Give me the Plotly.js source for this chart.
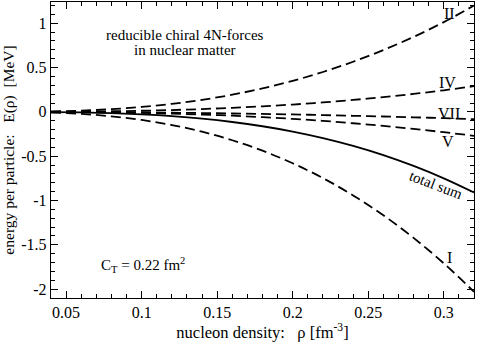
<!DOCTYPE html>
<html>
<head>
<meta charset="utf-8">
<script src="https://cdn.plot.ly/plotly-3.0.1.min.js"></script>
<style>
  html, body { margin: 0; padding: 0; background: #fff; }
  #chart { width: 478px; height: 343px; }
</style>
</head>
<body>
<div id="chart"></div>
<script>
// density grid [fm^-3]
var rho = [0.04, 0.06, 0.08, 0.10, 0.12, 0.14, 0.16, 0.18, 0.20, 0.22, 0.24, 0.26, 0.28, 0.30, 0.32];

// energy per particle contributions [MeV]
var eI   = [-0.008, -0.023, -0.050, -0.091, -0.148, -0.224, -0.320, -0.438, -0.580, -0.747, -0.943, -1.167, -1.422, -1.709, -2.03];
var eII  = [0.005, 0.014, 0.031, 0.056, 0.091, 0.136, 0.194, 0.265, 0.350, 0.450, 0.566, 0.698, 0.846, 1.013, 1.20];
var eIV  = [0.001, 0.003, 0.007, 0.013, 0.021, 0.032, 0.046, 0.063, 0.083, 0.107, 0.135, 0.167, 0.203, 0.244, 0.29];
var eV   = [-0.001, -0.003, -0.007, -0.012, -0.020, -0.030, -0.043, -0.059, -0.079, -0.101, -0.128, -0.158, -0.192, -0.229, -0.27];
var eVII = [-0.001, -0.002, -0.004, -0.006, -0.009, -0.013, -0.018, -0.023, -0.029, -0.036, -0.044, -0.052, -0.061, -0.071, -0.082];
var eSum = [-0.002, -0.006, -0.014, -0.028, -0.048, -0.076, -0.114, -0.162, -0.222, -0.296, -0.384, -0.488, -0.610, -0.750, -0.91];

var yTickVals = [-2, -1.5, -1, -0.5, 0, 0.5, 1];
var yTickText = ['-2', '-1.5', '-1', '-0.5', '0', '0.5', '1'];

var serif = 'Liberation Serif, Times New Roman, serif';

function dashed(y){
  return {
    x: rho, y: y,
    mode: 'lines',
    line: {color: 'black', width: 1.8, dash: '10px,5px', shape: 'spline'},
    hoverinfo: 'none'
  };
}

var total = {
  x: rho, y: eSum,
  mode: 'lines',
  line: {color: 'black', width: 1.8, shape: 'spline'},
  hoverinfo: 'none'
};

var data = [dashed(eI), dashed(eII), dashed(eIV), dashed(eV), dashed(eVII), total];

function label(x, y, text, size, angle){
  return {
    x: x, y: y, xref: 'x', yref: 'y',
    text: text, showarrow: false,
    textangle: angle || 0,
    font: {family: serif, size: size || 16, color: 'black'}
  };
}

var layout = {
  width: 478,
  height: 343,
  margin: {l: 51, r: 4, t: 2, b: 45},
  paper_bgcolor: 'white',
  plot_bgcolor: 'white',
  showlegend: false,
  font: {family: serif, size: 16, color: 'black'},
  xaxis: {
    range: [0.04, 0.32],
    tickmode: 'linear', tick0: 0.05, dtick: 0.05,
    ticks: 'inside', ticklen: 7, tickwidth: 1, tickcolor: 'black',
    minor: {ticks: 'inside', dtick: 0.01, tick0: 0, ticklen: 4, tickcolor: 'black'},
    showline: true, linecolor: 'black', linewidth: 1.2, mirror: 'allticks',
    showgrid: false, zeroline: false,
    tickfont: {family: serif, size: 16},
    title: {text: 'nucleon density:\u00a0\u00a0\u00a0\u03c1 [fm<sup>-3</sup>]', font: {family: serif, size: 16.5}, standoff: 4}
  },
  yaxis: {
    range: [-2.1, 1.24],
    tickmode: 'array', tickvals: yTickVals, ticktext: yTickText,
    ticks: 'inside', ticklen: 7, tickwidth: 1, tickcolor: 'black',
    minor: {ticks: 'inside', dtick: 0.1, tick0: 0, ticklen: 4, tickcolor: 'black'},
    showline: true, linecolor: 'black', linewidth: 1.2, mirror: 'allticks',
    showgrid: false, zeroline: false,
    tickfont: {family: serif, size: 16},
    title: {text: 'energy per particle:\u00a0\u00a0 E(\u03c1)\u00a0 [MeV]', font: {family: serif, size: 15.5}, standoff: 4}
  },
  annotations: [
    label(0.129, 0.866, 'reducible chiral 4N-forces', 15),
    label(0.129, 0.696, 'in nuclear matter', 15),
    label(0.1007, -1.73, 'C<sub>T</sub> = 0.22 fm<sup>2</sup>', 15),
    label(0.3035, 1.114, 'II', 16),
    label(0.3025, 0.335, 'IV', 16),
    label(0.3035, -0.015, 'VII', 16),
    label(0.3025, -0.331, 'V', 16),
    label(0.2948, -0.827, 'total sum', 15, 21),
    label(0.3035, -1.64, 'I', 16)
  ]
};

Plotly.newPlot('chart', data, layout, {staticPlot: true});
</script>
</body>
</html>
